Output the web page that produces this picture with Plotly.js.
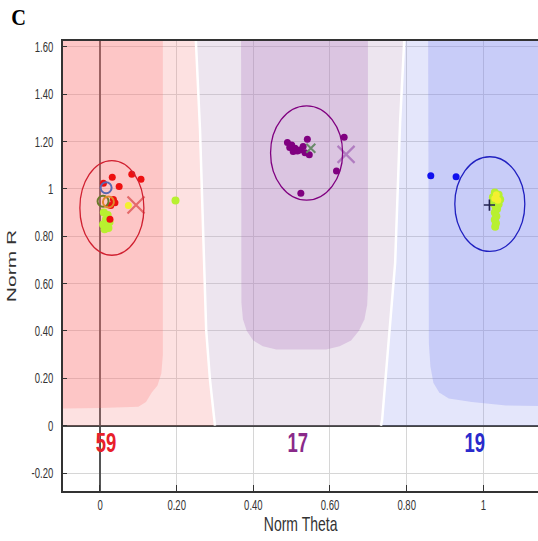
<!DOCTYPE html>
<html>
<head>
<meta charset="utf-8">
<script src="https://cdn.plot.ly/plotly-3.0.1.min.js"></script>
<style>html,body{margin:0;padding:0;background:#fff;}#chart{width:538px;height:541px;}</style>
</head>
<body>
<div id="chart"></div>
<script>
// ---------- data ----------
// Cluster region boundaries (Norm Theta, Norm R)
const boundaryATheta = [0.248, 0.261, 0.269, 0.277, 0.287, 0.300];
const boundaryAR     = [1.70, 1.249, 0.827, 0.404, 0.193, 0.0];
const boundaryBTheta = [0.796, 0.783, 0.770, 0.749, 0.736, 0.733];
const boundaryBR     = [1.70, 1.284, 0.687, 0.265, 0.024, 0.0];

const coreRedTheta = [-0.2, 0.164, 0.164, 0.160, 0.150, 0.135, 0.120, 0.100, 0.0, -0.2];
const coreRedR     = [1.70, 1.70, 0.30, 0.22, 0.17, 0.14, 0.10, 0.08, 0.075, 0.07];
const corePurpleTheta = [0.368, 0.699, 0.699, 0.697, 0.690, 0.675, 0.655, 0.625, 0.590, 0.460, 0.425, 0.400, 0.383, 0.373, 0.369];
const corePurpleR     = [1.70, 1.70, 0.58, 0.51, 0.45, 0.40, 0.36, 0.335, 0.322, 0.322, 0.335, 0.36, 0.40, 0.45, 0.52];
const coreBlueTheta = [0.856, 1.30, 1.30, 1.06, 0.97, 0.91, 0.885, 0.870, 0.862, 0.858];
const coreBlueR     = [1.70, 1.70, 0.08, 0.085, 0.10, 0.115, 0.14, 0.18, 0.25, 0.35];

// Cluster ellipses
const ellipseTheta = [0.031, 0.539, 1.017];
const ellipseR     = [0.920, 1.152, 0.936];
const ellipseHalfW = [0.0835, 0.094, 0.0913];
const ellipseHalfH = [0.200, 0.199, 0.200];

// Samples
const redTheta = [0.032, 0.083, 0.107, 0.050, 0.009, 0.039, 0.026, 0.035, 0.028];
const redR     = [1.049, 1.062, 1.041, 1.010, 1.024, 0.942, 0.872, 0.955, 0.930];
const purpleTheta = [0.489, 0.500, 0.509, 0.504, 0.522, 0.530, 0.541, 0.546, 0.535, 0.515, 0.495, 0.637, 0.617, 0.524];
const purpleR     = [1.196, 1.186, 1.172, 1.158, 1.165, 1.179, 1.210, 1.144, 1.153, 1.160, 1.175, 1.218, 1.076, 0.982];
const blueTheta = [0.863, 0.929];
const blueR     = [1.056, 1.052];
const limeTheta = [0.010, 0.020, 0.015, 0.025, 0.008, 0.018, 0.012, 0.022, 0.197,
                   1.030, 1.040, 1.025, 1.044, 1.033, 1.026, 1.040, 1.032, 1.036, 1.030, 1.034, 1.030, 1.033, 1.031];
const limeR     = [0.900, 0.890, 0.870, 0.860, 0.850, 0.845, 0.830, 0.835, 0.951,
                   0.985, 0.975, 0.965, 0.955, 0.950, 0.940, 0.935, 0.925, 0.915, 0.900, 0.885, 0.870, 0.855, 0.840];
const yellowTheta = [1.034, 1.038, 1.030, 0.074];
const yellowR     = [0.975, 0.952, 0.960, 0.930];
const ringTheta  = [0.016, 0.008, 0.022];
const ringR      = [1.005, 0.948, 0.945];
const ringColors = ['#5a68b0', '#6b7a2a', '#e08a2a'];

// Cluster centres
const centreTheta = [0.094, 0.642, 1.016];
const centreR     = [0.932, 1.146, 0.932];
const centreColors = ['#e46a6a', '#b07cc0', '#202050'];
const greyXTheta = [0.550];
const greyXR     = [1.172];

// Cluster counts
const countTheta  = [0.016, 0.516, 0.978];
const countR      = [-0.082, -0.082, -0.082];
const countLabels = ['59', '17', '19'];
const countColors = ['#e8202a', '#8a2a8a', '#2a2acc'];

// Tick labels
const xTickVals = [0, 0.2, 0.4, 0.6, 0.8, 1];
const xTickText = ['0', '0.20', '0.40', '0.60', '0.80', '1'];
const yTickVals = [1.6, 1.4, 1.2, 1, 0.8, 0.6, 0.4, 0.2, 0, -0.2];
const yTickText = ['1.60', '1.40', '1.20', '1', '0.80', '0.60', '0.40', '0.20', '0', '-0.20'];

// ---------- build ----------
const sans = 'Liberation Sans, Arial, sans-serif';
const noHover = {hoverinfo: 'skip', showlegend: false};

const lightRed = Object.assign({
  x: [-0.2, -0.2].concat(boundaryATheta), y: [0, 1.7].concat(boundaryAR),
  mode: 'lines', fill: 'toself', line: {width: 0}, fillcolor: 'rgba(245,130,130,0.24)'
}, noHover);
const lightPurple = Object.assign({
  x: boundaryATheta.concat(boundaryBTheta.slice().reverse()),
  y: boundaryAR.concat(boundaryBR.slice().reverse()),
  mode: 'lines', fill: 'toself', line: {width: 0}, fillcolor: 'rgba(190,160,195,0.27)'
}, noHover);
const lightBlue = Object.assign({
  x: boundaryBTheta.concat([1.3, 1.3]), y: boundaryBR.concat([0, 1.7]),
  mode: 'lines', fill: 'toself', line: {width: 0}, fillcolor: 'rgba(140,150,240,0.235)'
}, noHover);
const coreRed = Object.assign({x: coreRedTheta, y: coreRedR, mode: 'lines', fill: 'toself',
  line: {width: 0}, fillcolor: 'rgba(255,110,110,0.235)'}, noHover);
const corePurple = Object.assign({x: corePurpleTheta, y: corePurpleR, mode: 'lines', fill: 'toself',
  line: {width: 0}, fillcolor: 'rgba(160,90,180,0.23)'}, noHover);
const coreBlue = Object.assign({x: coreBlueTheta, y: coreBlueR, mode: 'lines', fill: 'toself',
  line: {width: 0}, fillcolor: 'rgba(110,120,240,0.237)'}, noHover);
const gapA = Object.assign({x: boundaryATheta, y: boundaryAR, mode: 'lines', line: {color: '#ffffff', width: 2.5}}, noHover);
const gapB = Object.assign({x: boundaryBTheta, y: boundaryBR, mode: 'lines', line: {color: '#ffffff', width: 2.5}}, noHover);

function pts(x, y, color, size, symbol) {
  return Object.assign({x: x, y: y, mode: 'markers', type: 'scatter',
    marker: {color: color, size: size, symbol: symbol || 'circle', line: {width: 0}}}, noHover);
}

const traces = [
  lightRed, lightPurple, lightBlue, coreRed, corePurple, coreBlue, gapA, gapB,
  pts(limeTheta, limeR, '#b8f030', 8),
  pts(yellowTheta, yellowR, '#f4f030', 7),
  pts(redTheta, redR, '#ee1010', 7),
  pts(purpleTheta, purpleR, '#800080', 7),
  pts(blueTheta, blueR, '#1010ee', 7),
  Object.assign({x: ringTheta, y: ringR, mode: 'markers',
    marker: {symbol: 'circle-open', size: 11, color: ringColors, line: {width: 2, color: ringColors}}}, noHover),
  Object.assign({x: centreTheta.slice(0, 2), y: centreR.slice(0, 2), mode: 'markers',
    marker: {symbol: 'x-thin-open', size: 17, color: centreColors.slice(0, 2),
      line: {width: 2.2, color: centreColors.slice(0, 2)}}}, noHover),
  Object.assign({x: [centreTheta[2]], y: [centreR[2]], mode: 'markers',
    marker: {symbol: 'cross-thin-open', size: 8, color: centreColors[2],
      line: {width: 1.6, color: centreColors[2]}}}, noHover),
  Object.assign({x: greyXTheta, y: greyXR, mode: 'markers',
    marker: {symbol: 'x-thin-open', size: 9, color: '#6a8a6a', line: {width: 2, color: '#6a8a6a'}}}, noHover),
  Object.assign({x: countTheta, y: countR, mode: 'text', text: countLabels, cliponaxis: false,
    textfont: {family: sans, size: 28, weight: 'bold', color: countColors}}, noHover)
];

const ellipseColors = ['#d02030', '#800080', '#2020c0'];
const shapes = ellipseTheta.map((c, i) => ({
  type: 'circle', xref: 'x', yref: 'y', layer: 'above',
  x0: c - ellipseHalfW[i], x1: c + ellipseHalfW[i],
  y0: ellipseR[i] - ellipseHalfH[i], y1: ellipseR[i] + ellipseHalfH[i],
  line: {color: ellipseColors[i], width: 1.3}
}));

const layout = {
  width: 538, height: 541,
  margin: {l: 63, r: 0, t: 41, b: 50},
  paper_bgcolor: '#ffffff', plot_bgcolor: '#ffffff',
  showlegend: false,
  title: {text: '<b>C</b>', font: {family: 'Liberation Serif, serif', size: 24, color: '#000'},
    x: 0.021, xref: 'container', xanchor: 'left', y: 0.985, yref: 'container', yanchor: 'top'},
  xaxis: {
    range: [-0.0965, 1.1427], tickvals: xTickVals, ticktext: xTickText,
    ticks: 'inside', ticklen: 6, tickcolor: '#333', tickwidth: 1,
    showgrid: true, gridcolor: '#d6d6d6', gridwidth: 1,
    zeroline: true, zerolinecolor: '#555', zerolinewidth: 2,
    showline: true, linecolor: '#333', linewidth: 2, mirror: true,
    tickfont: {family: sans, size: 14, color: '#333'},
    title: {text: 'Norm Theta', font: {family: sans, size: 20, color: '#333'}, standoff: 1},
    fixedrange: true
  },
  yaxis: {
    range: [-0.276, 1.625], tickvals: yTickVals, ticktext: yTickText,
    ticks: 'inside', ticklen: 4, tickcolor: '#333', tickwidth: 1,
    showgrid: true, gridcolor: '#d6d6d6', gridwidth: 1,
    zeroline: true, zerolinecolor: '#444', zerolinewidth: 2,
    showline: true, linecolor: '#333', linewidth: 2, mirror: false,
    tickfont: {family: sans, size: 14, color: '#333'}, ticklabelstandoff: 5,
    title: {text: 'Norm R', font: {family: sans, size: 21, color: '#333'}, standoff: 0},
    fixedrange: true
  },
  shapes: shapes
};

// Horizontal squash of text (the reference text is narrow/condensed)
function squash(selector, sx) {
  document.querySelectorAll(selector).forEach(el => {
    const bb = el.getBBox();
    const anchor = el.getAttribute('text-anchor') || getComputedStyle(el).textAnchor || 'start';
    const ax = bb.x + (anchor === 'middle' ? bb.width / 2 : anchor === 'end' ? bb.width : 0);
    const ay = bb.y + bb.height / 2;
    const old = el.getAttribute('transform') || '';
    let px = ax, py = ay;
    const tl = el.transform.baseVal;
    if (tl.numberOfItems) {
      const m = tl.consolidate().matrix;
      px = m.a * ax + m.c * ay + m.e;
      py = m.b * ax + m.d * ay + m.f;
    }
    el.setAttribute('transform', `translate(${px},${py}) scale(${sx},1) translate(${-px},${-py}) ${old}`);
  });
}

Plotly.newPlot('chart', traces, layout, {staticPlot: true, displayModeBar: false}).then(() => {
  squash('#chart .xtick text, #chart .ytick text', 0.68);
  squash('#chart .xtitle', 0.7);
  squash('#chart .ytitle', 0.63);
  squash('#chart .textpoint text', 0.66);
  squash('#chart .gtitle', 0.85);
});
</script>
</body>
</html>
